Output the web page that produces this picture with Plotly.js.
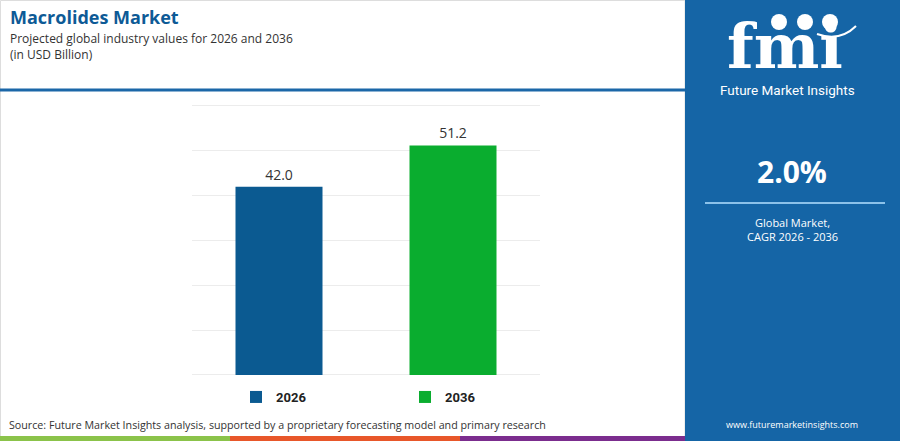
<!DOCTYPE html>
<html><head><meta charset="utf-8">
<script src="https://cdn.plot.ly/plotly-3.0.1.min.js"></script>
<style>html,body{margin:0;padding:0;background:#fff}#chart{width:900px;height:441px}</style>
</head><body><div id="chart"></div>
<script>
const categories = ["2026", "2036"];
const values = [42.0, 51.2];
const barColors = ["#0b5a91", "#0aad2f"];
const yTicks = [0, 10, 20, 30, 40, 50, 60];
const cagrText = "2.0%";

const W = 900, H = 441;
const px = x => x / W;
const py = y => 1 - y / H;
const FONT = "Open Sans";

const traces = categories.map((c, i) => ({
  type: "bar",
  name: c,
  x: [c],
  y: [values[i]],
  width: 0.5,
  marker: {color: barColors[i]},
  text: [values[i].toFixed(1)],
  textposition: "outside",
  cliponaxis: false,
  textfont: {family: FONT, size: 14, color: "#333"},
  hoverinfo: "x+y"
}));

const shapes = [
  {type: "rect", xref: "paper", yref: "paper", x0: px(0.5), x1: px(685), y0: py(440.5), y1: py(0.5), line: {color: "#dddddd", width: 1}, fillcolor: "rgba(0,0,0,0)", layer: "below"},
  {type: "line", xref: "paper", yref: "paper", x0: 0, x1: px(690), y0: py(90), y1: py(90), line: {color: "#1b67a8", width: 3}},
  {type: "rect", xref: "paper", yref: "paper", x0: px(685), x1: 1, y0: 0, y1: 1, fillcolor: "#1565a6", line: {width: 0}},
  {type: "line", xref: "paper", yref: "paper", x0: px(705), x1: px(885), y0: py(203), y1: py(203), line: {color: "#8cc2ea", width: 2}},
  {type: "rect", xref: "paper", yref: "paper", x0: 0, x1: px(230), y0: py(441), y1: py(436), fillcolor: "#8bc34a", line: {width: 0}},
  {type: "rect", xref: "paper", yref: "paper", x0: px(230), x1: px(460), y0: py(441), y1: py(436), fillcolor: "#e8572a", line: {width: 0}},
  {type: "rect", xref: "paper", yref: "paper", x0: px(460), x1: px(685), y0: py(441), y1: py(436), fillcolor: "#7b2d8e", line: {width: 0}},
  // logo globes
  {type: "circle", xref: "paper", yref: "paper", x0: px(771), x1: px(787), y0: py(30), y1: py(14), fillcolor: "#ffffff", line: {width: 0}},
  {type: "circle", xref: "paper", yref: "paper", x0: px(797), x1: px(813), y0: py(30), y1: py(14), fillcolor: "#ffffff", line: {width: 0}},
  {type: "circle", xref: "paper", yref: "paper", x0: px(822), x1: px(838), y0: py(30), y1: py(14), fillcolor: "#ffffff", line: {width: 0}},
  {type: "path", xref: "paper", yref: "paper", path: `M ${px(817)} ${py(34)} Q ${px(840)} ${py(42)} ${px(856)} ${py(26)}`, line: {color: "#ffffff", width: 2}}
];

const annotations = [
  {text: "<b>Macrolides Market</b>", x: px(8), y: py(17.5), xanchor: "left", yanchor: "middle", font: {family: FONT, size: 18, color: "#0d5a96"}},
  {text: "Projected global industry values for 2026 and 2036<br>(in USD Billion)", x: px(8), y: py(46.5), xanchor: "left", yanchor: "middle", align: "left", font: {family: FONT, size: 12, color: "#333"}},
  {text: "Source: Future Market Insights analysis, supported by a proprietary forecasting model and primary research", x: px(7), y: py(425), xanchor: "left", yanchor: "middle", font: {family: FONT, size: 10.7, color: "#333"}},
  {text: "<b>fmi</b>", x: px(785), y: py(46), xanchor: "center", yanchor: "middle", font: {family: "DejaVu Serif", size: 62, color: "#ffffff"}},
  {text: "Future Market Insights", x: px(787), y: py(90), xanchor: "center", yanchor: "middle", font: {family: "Roboto", size: 13.5, color: "#ffffff"}},
  {text: "<b>" + cagrText + "</b>", x: px(792), y: py(171), xanchor: "center", yanchor: "middle", font: {family: FONT, size: 30, color: "#ffffff"}},
  {text: "Global Market,", x: px(792), y: py(222), xanchor: "center", yanchor: "middle", font: {family: FONT, size: 11, color: "#ffffff"}},
  {text: "CAGR 2026 - 2036", x: px(792), y: py(236), xanchor: "center", yanchor: "middle", font: {family: FONT, size: 11, color: "#ffffff"}},
  {text: "www.futuremarketinsights.com", x: px(792), y: py(424), xanchor: "center", yanchor: "middle", font: {family: FONT, size: 9, color: "#ffffff"}}
].map(a => Object.assign({xref: "paper", yref: "paper", showarrow: false}, a));

// y scale: 0 at y=375px, 60 at y=106px
const ppu = (375 - 106) / 60;
const yMin = -0.5, yMax = 61;

const layout = {
  width: W, height: H,
  margin: {l: 0, r: 0, t: 0, b: 0},
  paper_bgcolor: "#ffffff",
  plot_bgcolor: "#ffffff",
  barmode: "overlay",
  showlegend: true,
  legend: {
    orientation: "h", x: px(236), xanchor: "left", y: py(397), yanchor: "middle",
    font: {family: "Roboto", size: 13, color: "#222", weight: "bold"},
    entrywidth: 124, entrywidthmode: "pixels", traceorder: "normal",
    bgcolor: "rgba(0,0,0,0)"
  },
  xaxis: {
    domain: [px(192), px(540)],
    type: "category",
    showticklabels: false, showgrid: false, zeroline: false, showline: false, ticks: "",
    fixedrange: true
  },
  yaxis: {
    domain: [py(375 - yMin * ppu), py(375 - yMax * ppu)],
    range: [yMin, yMax],
    tickvals: yTicks,
    showticklabels: false,
    showgrid: true, gridcolor: "#ececec", gridwidth: 1,
    zeroline: false, showline: false, ticks: "",
    fixedrange: true
  },
  shapes: shapes,
  annotations: annotations
};

Plotly.newPlot("chart", traces, layout, {displayModeBar: false, staticPlot: true});
</script></body></html>
